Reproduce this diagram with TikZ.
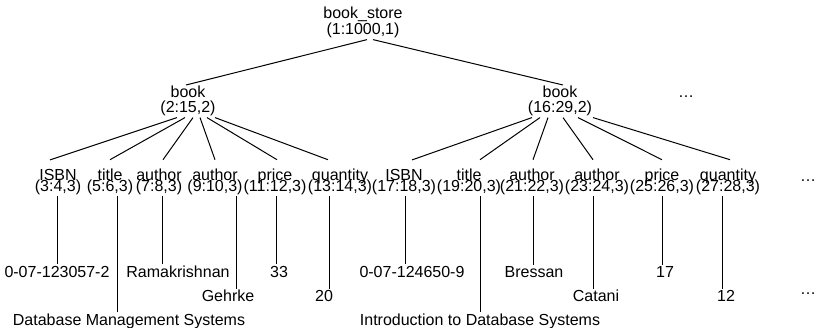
\documentclass[tikz,border=0pt]{standalone}
\usepackage{fontspec}
\setmainfont{Liberation Sans}
\usetikzlibrary{positioning}

\begin{document}
\begin{tikzpicture}[
    x=0.75pt, y=-0.75pt,
    every node/.style={inner sep=1pt, outer sep=0pt},
    top/.style={align=center, font=\fontsize{12}{12.5}\selectfont},
    elem/.style={align=center, font=\fontsize{12}{11.25}\selectfont},
    leaf/.style={align=center,
                 font={\fontsize{12}{8.25}\selectfont\lineskiplimit=-1em}},
    val/.style={anchor=base, font=\fontsize{12}{14}\selectfont},
    more/.style={val},
    link/.style={line width=0.75pt},
  ]
    \useasboundingbox (0,0) rectangle (818,328);

    % element nodes
    \node[top] (store) at (363,22.5) {book\_store\\(1:1000,1)};
    \node[elem] (book1) at (188,101.3) {book\\(2:15,2)};
    \node[elem] (book2) at (560,101.3) {book\\(16:29,2)};
    \node[more] (dots1) at (686,98) {…};

    % children of the first book
    \node[leaf] (isbn1) at (58,182) {ISBN\\(3:4,3)};
    \node[leaf] (title1) at (110,182) {title\\(5:6,3)};
    \node[leaf] (authA) at (159,182) {author\\(7:8,3)};
    \node[leaf] (authB) at (215,182) {author\\(9:10,3)};
    \node[leaf] (price1) at (275,182) {price\\(11:12,3)};
    \node[leaf] (qty1) at (340,182) {quantity\\(13:14,3)};
    % children of the second book
    \node[leaf] (isbn2) at (404,182) {ISBN\\(17:18,3)};
    \node[leaf] (title2) at (469,182) {title\\(19:20,3)};
    \node[leaf] (authC) at (532,182) {author\\(21:22,3)};
    \node[leaf] (authD) at (597,182) {author\\(23:24,3)};
    \node[leaf] (price2) at (662,182) {price\\(25:26,3)};
    \node[leaf] (qty2) at (728,182) {quantity\\(27:28,3)};
    \node[more] (dots2) at (808,181) {…};

    % text values
    \node[val] (isbnval1) at (57,277) {0-07-123057-2};
    \node[val] (titleval1) at (129,325) {Database Management Systems};
    \node[val] (authvalA) at (178,277) {Ramakrishnan};
    \node[val] (authvalB) at (228,301.5) {Gehrke};
    \node[val] (priceval1) at (279,277) {33};
    \node[val] (qtyval1) at (324,301.5) {20};
    \node[val] (isbnval2) at (412,277) {0-07-124650-9};
    \node[val] (titleval2) at (480,325) {Introduction to Database Systems};
    \node[val] (authvalC) at (534,277) {Bressan};
    \node[val] (authvalD) at (596,301.5) {Catani};
    \node[val] (priceval2) at (665,277) {17};
    \node[val] (qtyval2) at (726,301.5) {12};
    \node[more] (dots3) at (808,294) {…};

    % root to books
    \draw[link] ([xshift=3pt]store.south) -- ([xshift=-1.5pt]book1.north);
    \draw[link] ([xshift=7.5pt]store.south) -- ([xshift=2.25pt]book2.north);

    % book to children
    \draw[link] ([xshift=-8.25pt]book1.south) -- ([xshift=-6pt,yshift=6pt]isbn1.north);
    \draw[link] ([xshift=-2.25pt]book1.south) -- ([yshift=6pt]title1.north);
    \draw[link] ([xshift=3.75pt]book1.south) -- ([xshift=3pt,yshift=6pt]authA.north);
    \draw[link] ([xshift=9pt]book1.south) -- ([yshift=6pt]authB.north);
    \draw[link] ([xshift=14.25pt]book1.south) -- ([xshift=1.5pt,yshift=6pt]price1.north);
    \draw[link] ([xshift=20.25pt]book1.south) -- ([xshift=-9pt,yshift=6pt]qty1.north);
    \draw[link] ([xshift=-21pt]book2.south) -- ([xshift=6pt,yshift=6pt]isbn2.north);
    \draw[link] ([xshift=-15pt]book2.south) -- ([xshift=8.25pt,yshift=6pt]title2.north);
    \draw[link] ([xshift=-9pt]book2.south) -- ([xshift=0.75pt,yshift=6pt]authC.north);
    \draw[link] ([xshift=2.25pt]book2.south) -- ([xshift=-3pt,yshift=6pt]authD.north);
    \draw[link] ([xshift=13.5pt]book2.south) -- ([yshift=6pt]price2.north);
    \draw[link] ([xshift=24.75pt]book2.south) -- ([xshift=1.5pt,yshift=6pt]qty2.north);

    % children to their values
    \draw[link] ([xshift=-0.75pt]isbn1.south) -- ([xshift=-0.75pt]isbn1.south |- isbnval1.north);
    \draw[link] ([xshift=5.25pt]title1.south) -- ([xshift=5.25pt]title1.south |- titleval1.north);
    \draw[link] ([xshift=2.25pt]authA.south) -- ([xshift=2.25pt]authA.south |- authvalA.north);
    \draw[link] ([xshift=15.75pt]authB.south) -- ([xshift=15.75pt]authB.south |- authvalB.north);
    \draw[link] ([xshift=0.75pt]price1.south) -- ([xshift=0.75pt]price1.south |- priceval1.north);
    \draw[link] ([xshift=-8.25pt]qty1.south) -- ([xshift=-8.25pt]qty1.south |- qtyval1.north);
    \draw[link] ([xshift=0.75pt]isbn2.south) -- ([xshift=0.75pt]isbn2.south |- isbnval2.north);
    \draw[link] ([xshift=8.25pt]title2.south) -- ([xshift=8.25pt]title2.south |- titleval2.north);
    \draw[link] ([xshift=0.75pt]authC.south) -- ([xshift=0.75pt]authC.south |- authvalC.north);
    \draw[link] ([xshift=-3pt]authD.south) -- ([xshift=-3pt]authD.south |- authvalD.north);
    \draw[link] (price2.south) -- (price2.south |- priceval2.north);
    \draw[link] ([xshift=-4.5pt]qty2.south) -- ([xshift=-4.5pt]qty2.south |- qtyval2.north);
  \end{tikzpicture}
\end{document}
